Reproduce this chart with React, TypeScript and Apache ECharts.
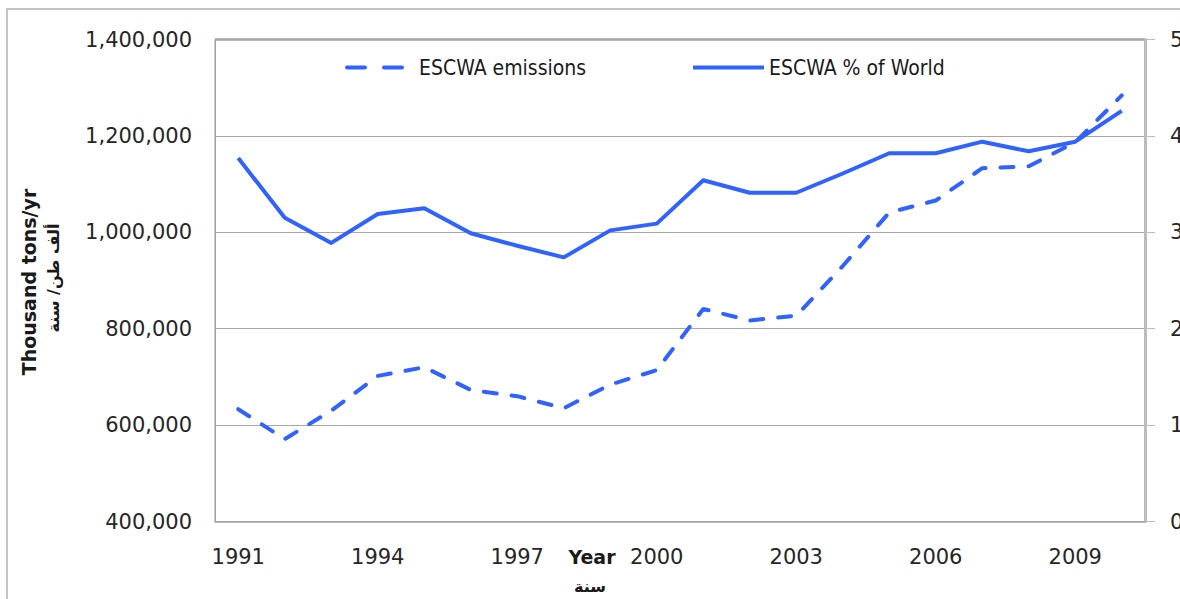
import React, { useEffect, useRef } from "react";
import * as echarts from "echarts";

const years = ["1991", "1992", "1993", "1994", "1995", "1996", "1997", "1998", "1999", "2000",
  "2001", "2002", "2003", "2004", "2005", "2006", "2007", "2008", "2009", "2010"];
const emissions = [633000, 571000, 630000, 702000, 720000, 673000, 660000, 635000, 684000, 714000,
  841000, 817000, 827000, 930000, 1041000, 1066000, 1133000, 1137000, 1187000, 1284000];
const worldShare = [3.77, 3.15, 2.89, 3.19, 3.25, 2.99, 2.86, 2.74, 3.02, 3.09,
  3.54, 3.41, 3.41, 3.61, 3.82, 3.82, 3.94, 3.84, 3.94, 4.26];
const leftTicks = { min: 400000, max: 1400000, interval: 200000 };
const rightTicks = { min: 0, max: 5, interval: 1 };
const seriesNames = ["ESCWA emissions", "ESCWA % of World"];
const yAxisTitle = "Thousand tons/yr";
const yAxisTitleAr = "ألف طن/ سنة";
const xAxisTitle = "Year";
const xAxisTitleAr = "سنة";

const BLUE = "#2f62ff";
const TICK_FONT = "'DejaVu Sans', Verdana, sans-serif";
const LEGEND_FONT = "'Liberation Sans Narrow', 'Arial Narrow', 'DejaVu Sans Condensed', 'DejaVu Sans', sans-serif";

export default function App() {
  const ref = useRef<HTMLDivElement>(null);
  useEffect(() => {
    if (!ref.current) return;
    const chart = echarts.init(ref.current, undefined, { renderer: "svg" });
    const hiddenSymbol = { color: "rgba(0,0,0,0)", borderWidth: 0, opacity: 0 };
    chart.setOption({
      animation: false,
      backgroundColor: "#ffffff",
      grid: {
        left: 215, right: 35, top: 39.5, bottom: 77.5,
        containLabel: false, outerBoundsMode: "none",
        show: true, borderColor: "#9a9a9a", borderWidth: 1, backgroundColor: "transparent",
      },
      legend: [
        {
          data: [seriesNames[0]], left: 340, top: 52, itemWidth: 55, itemHeight: 14,
          textStyle: { fontFamily: LEGEND_FONT, fontSize: 21, color: "#1a1a1a", padding: [0, 0, 0, 12] },
          lineStyle: { type: [18, 19], width: 4 },
          itemStyle: hiddenSymbol,
        },
        {
          data: [seriesNames[1]], left: 686, top: 52, itemWidth: 71, itemHeight: 14,
          textStyle: { fontFamily: LEGEND_FONT, fontSize: 21, color: "#1a1a1a", padding: [0, 0, 0, 0] },
          lineStyle: { width: 4 },
          itemStyle: hiddenSymbol,
        },
      ],
      xAxis: {
        type: "category", data: years, boundaryGap: true,
        axisLine: { lineStyle: { color: "#a0a0a0", width: 1.5 } },
        axisTick: { show: false },
        axisLabel: { interval: 2, margin: 25, fontFamily: TICK_FONT, fontSize: 21, color: "#262626" },
        splitLine: { show: false },
      },
      yAxis: [
        {
          type: "value", ...leftTicks, position: "left",
          axisLine: { show: true, lineStyle: { color: "#a0a0a0", width: 1 } },
          axisTick: { show: false },
          axisLabel: {
            margin: 23, fontFamily: TICK_FONT, fontSize: 21, color: "#262626",
            formatter: (v: number) => v.toLocaleString("en-US"),
          },
          splitLine: { lineStyle: { color: "#a8a8a8", width: 1 } },
        },
        {
          type: "value", ...rightTicks, position: "right",
          axisLine: { show: true, lineStyle: { color: "#bcbcbc", width: 3 } },
          axisTick: { show: true, length: 10, lineStyle: { color: "#bcbcbc", width: 1 } },
          axisLabel: { margin: 25, fontFamily: TICK_FONT, fontSize: 21, color: "#262626" },
          splitLine: { show: false },
        },
      ],
      series: [
        {
          name: seriesNames[1], type: "line", yAxisIndex: 1, data: worldShare,
          symbol: "none", lineStyle: { color: BLUE, width: 4, join: "round" }, itemStyle: { color: BLUE },
        },
        {
          name: seriesNames[0], type: "line", yAxisIndex: 0, data: emissions,
          symbol: "none", lineStyle: { color: BLUE, width: 4, type: [13, 15], cap: "round" }, itemStyle: { color: BLUE },
        },
      ],
      graphic: [
        { type: "rect", shape: { x: 7, y: 9, width: 1300, height: 700 }, style: { fill: "none", stroke: "#c4c4c4", lineWidth: 2 }, silent: true },
        { type: "line", shape: { x1: 215, y1: 39.5, x2: 1145, y2: 39.5 }, style: { stroke: "#6e6e6e", lineWidth: 2 }, silent: true },
        {
          type: "text", x: 29, y: 282, rotation: Math.PI / 2,
          style: { text: yAxisTitle, fontFamily: TICK_FONT, fontWeight: "bold", fontSize: 19, fill: "#1a1a1a", align: "center", verticalAlign: "middle" },
        },
        {
          type: "text", x: 53, y: 278, rotation: Math.PI / 2,
          style: { text: yAxisTitleAr, fontFamily: TICK_FONT, fontWeight: "bold", fontSize: 16, fill: "#1a1a1a", align: "center", verticalAlign: "middle" },
        },
        {
          type: "text", x: 592, y: 557,
          style: { text: xAxisTitle, fontFamily: TICK_FONT, fontWeight: "bold", fontSize: 19, fill: "#1a1a1a", align: "center", verticalAlign: "middle" },
        },
        {
          type: "text", x: 590, y: 586,
          style: { text: xAxisTitleAr, fontFamily: TICK_FONT, fontWeight: "bold", fontSize: 16, fill: "#1a1a1a", align: "center", verticalAlign: "middle" },
        },
      ],
    });
    return () => chart.dispose();
  }, []);
  return <div ref={ref} style={{ position: "fixed", left: 0, top: 0, width: 1180, height: 599 }} />;
}
